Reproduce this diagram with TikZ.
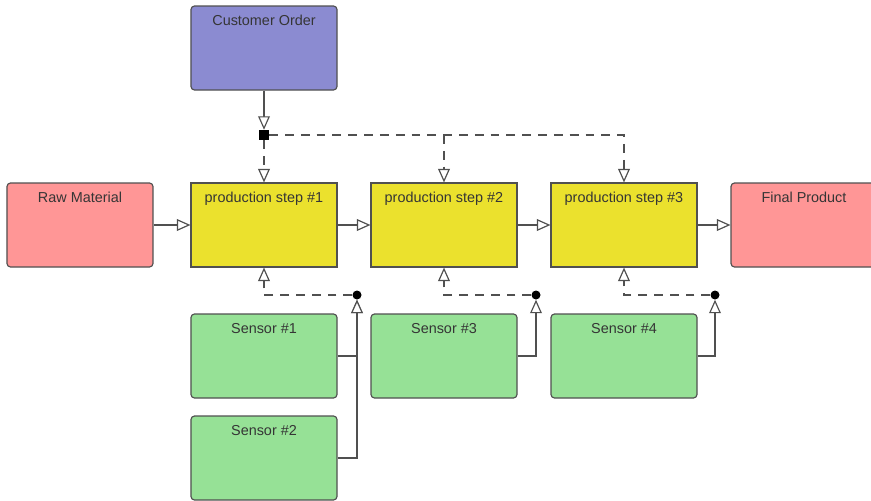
\documentclass[tikz,border=0pt]{standalone}
\usepackage{fontspec}
\setmainfont{Liberation Sans}
\usetikzlibrary{arrows.meta}
\definecolor{ordercol}{HTML}{8B8BD1}
\definecolor{endcol}{HTML}{FF9696}
\definecolor{stepcol}{HTML}{EBE12D}
\definecolor{sensorcol}{HTML}{96E196}
\definecolor{linecol}{HTML}{505050}
\definecolor{textcol}{HTML}{353535}
\tikzstyle{box} = [rectangle, rounded corners=3pt, minimum width=4.38cm, inner sep=0pt, text height=16.8pt, text depth=54.9pt, text centered, draw=linecol, line width=1pt, text=textcol, font=\fontsize{12.3}{15}\selectfont]
\tikzstyle{order} = [box, fill=ordercol]
\tikzstyle{material} = [box, fill=endcol]
\tikzstyle{stepbox} = [box, sharp corners, fill=stepcol]
\tikzstyle{sensor} = [box, fill=sensorcol]
\tikzstyle{junction} = [rectangle, fill=black, inner sep=0pt, minimum size=0.3cm]
\tikzstyle{dot} = [circle, fill=black, inner sep=0pt, minimum size=0.27cm]
\tikzstyle{arrow} = [draw=linecol, line width=1pt, -{Triangle[length=11.5pt, width=10pt, fill=white]}]
\tikzstyle{darrow} = [arrow, dash pattern=on 7.5pt off 6pt]

\begin{document}
\begin{tikzpicture}[node distance=5.4cm]
    \useasboundingbox (-7.92,-8.25) rectangle (18.21,6.75);

    \node (step1) [stepbox] {production step \#1};
    \node (step2) [stepbox, right of=step1] {production step \#2};
    \node (step3) [stepbox, right of=step2] {production step \#3};
    \node (final) [material, right of=step3] {Final Product};
    \node (raw) [material, left of=step1, xshift=-0.12cm] {Raw Material};
    \node (order) [order, above of=step1, yshift=-0.09cm] {Customer Order};
    \node (sensor1) [sensor, below of=step1, yshift=1.47cm] {Sensor \#1};
    \node (sensor3) [sensor, below of=step2, yshift=1.47cm] {Sensor \#3};
    \node (sensor4) [sensor, below of=step3, yshift=1.47cm] {Sensor \#4};
    \node (sensor2) [sensor, below of=sensor1, yshift=2.34cm] {Sensor \#2};

    \node (jtop) [junction, above of=step1, yshift=-2.7cm] {};
    \node (dot1) [dot, below of=step1, xshift=2.79cm, yshift=3.3cm] {};
    \node (dot2) [dot, below of=step2, xshift=2.76cm, yshift=3.3cm] {};
    \node (dot3) [dot, below of=step3, xshift=2.73cm, yshift=3.3cm] {};

    \draw [arrow] (raw) -- (step1);
    \draw [arrow] (step1) -- (step2);
    \draw [arrow] (step2) -- (step3);
    \draw [arrow] (step3) -- (final);

    \draw [arrow] (order) -- (jtop);
    \draw [darrow] (jtop) -- (step1);
    \draw [darrow] (jtop) -| (step3);
    \draw [darrow] (jtop -| step2) -- (step2);

    \draw [arrow] (sensor2) -| (dot1);
    \draw [arrow] (sensor1) -| (dot1);
    \draw [arrow] (sensor3) -| (dot2);
    \draw [arrow] (sensor4) -| (dot3);

    \draw [darrow] (dot1) -| (step1);
    \draw [darrow] (dot2) -| (step2);
    \draw [darrow] (dot3) -| (step3);
\end{tikzpicture}
\end{document}
